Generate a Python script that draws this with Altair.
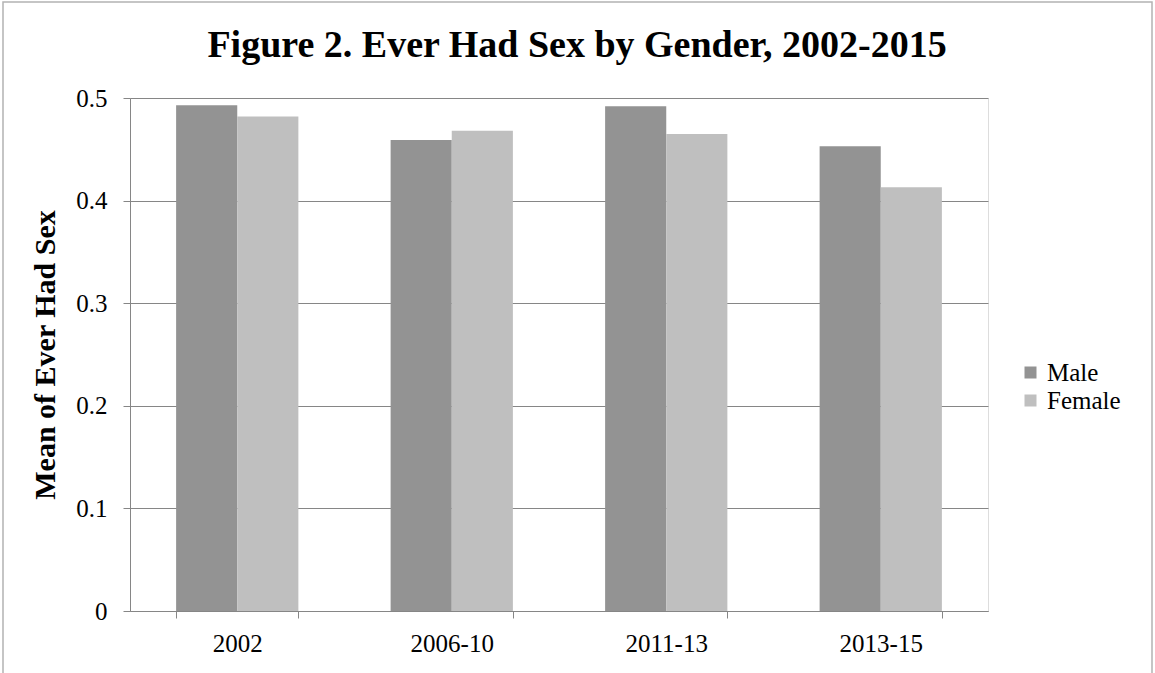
import altair as alt
import pandas as pd

# Survey periods and mean share who ever had sex, by gender
periods = ["2002", "2006-10", "2011-13", "2013-15"]
male = [0.493, 0.459, 0.492, 0.453]
female = [0.482, 0.468, 0.465, 0.413]
genders = ["Male", "Female"]
y_ticks = [0, 0.1, 0.2, 0.3, 0.4, 0.5]

rows = []
for p, m, f in zip(periods, male, female):
    rows.append({"period": p, "gender": "Male", "value": m})
    rows.append({"period": p, "gender": "Female", "value": f})
df = pd.DataFrame(rows)

FONT = "Liberation Serif"
GRID = "#868686"

bars = alt.Chart(df).mark_bar(stroke=None).encode(
    x=alt.X(
        "period:N",
        sort=periods,
        title=None,
        scale=alt.Scale(paddingInner=0.43, paddingOuter=0.215),
        axis=alt.Axis(
            labelAngle=0,
            labelFontSize=25,
            labelFont=FONT,
            labelColor="black",
            labelPadding=13,
            tickBand="extent",
            tickSize=7,
            tickColor=GRID,
            domainColor=GRID,
            grid=False,
        ),
    ),
    xOffset=alt.XOffset("gender:N", sort=genders),
    y=alt.Y(
        "value:Q",
        title="Mean of Ever Had Sex",
        scale=alt.Scale(domain=[0, 0.5], nice=False),
        axis=alt.Axis(
            values=y_ticks,
            format="~g",
            labelFontSize=25,
            labelFont=FONT,
            labelColor="black",
            labelPadding=16,
            tickSize=7,
            tickColor=GRID,
            domainColor=GRID,
            gridColor=GRID,
            titleFont=FONT,
            titleFontSize=30,
            titleFontWeight="bold",
            titleColor="black",
            titlePadding=15,
        ),
    ),
    color=alt.Color(
        "gender:N",
        sort=genders,
        scale=alt.Scale(domain=genders, range=["#939393", "#bfbfbf"]),
        legend=alt.Legend(
            title=None,
            orient="none",
            legendX=888,
            legendY=262,
            padding=0,
            symbolType="square",
            symbolSize=144,
            symbolStrokeWidth=0,
            labelFont=FONT,
            labelFontSize=25,
            labelColor="black",
            rowPadding=2,
            labelOffset=4,
        ),
    ),
)

# thin frame around the whole figure
frame = alt.Chart(pd.DataFrame({"k": [0]})).mark_rect(
    fill=None, stroke="#b3b3b3", strokeWidth=1.5
).encode(
    x=alt.value(-127), x2=alt.value(1022), y=alt.value(-96), y2=alt.value(720)
)

chart = alt.layer(bars, frame).properties(
    width=858,
    height=513,
    padding={"left": 130, "top": 98, "right": 167, "bottom": 62},
    autosize=alt.AutoSizeParams(type="none"),
    title=alt.TitleParams(
        "Figure 2. Ever Had Sex by Gender, 2002-2015",
        font=FONT,
        fontSize=38,
        fontWeight="bold",
        color="black",
        anchor="middle",
        baseline="alphabetic",
        offset=-94,
        dx=18,
    ),
).configure_view(stroke=None).configure(background="white")

chart.save("out.html", embed_options={"renderer": "svg", "actions": False})
